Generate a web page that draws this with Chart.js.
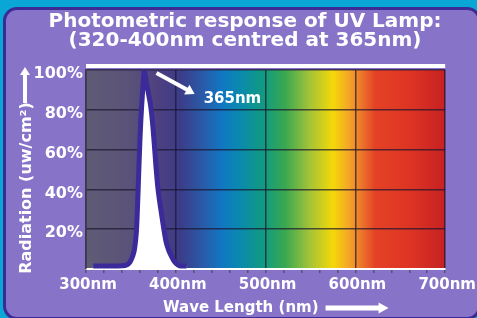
<!DOCTYPE html>
<html>
<head>
<meta charset="utf-8">
<script src="https://cdn.jsdelivr.net/npm/chart.js@4.4.1/dist/chart.umd.min.js"></script>
<style>
  html, body { margin: 0; padding: 0; width: 477px; height: 318px; overflow: hidden; background: #0aa6d6; }
  .panel { position: absolute; left: 3px; top: 7px; width: 478px; height: 313px; box-sizing: border-box;
           border: 3px solid #3a2c94; border-radius: 14px; background: #8773c8; }
  #wrap { position: absolute; left: 0; top: 0; width: 477px; height: 318px; }
</style>
</head>
<body>
<div class="panel"></div>
<div id="wrap"><canvas id="chart" width="477" height="318"></canvas></div>
<script>
// lamp output (nm, % of peak)
const wavelengths = [308, 330, 340, 345, 349, 352, 354, 356, 357, 358, 359, 360, 361, 362, 363, 364, 365,
                     366, 368, 370, 372, 374, 376, 378, 380, 382, 384, 386, 389, 392, 395, 398, 402, 406, 412];
const radiation   = [1.5, 1.5, 1.6, 2, 3.5, 6.5, 10, 18, 27, 39, 52, 64, 74, 82, 89, 95, 100,
                     97, 92, 87, 82, 74, 63, 51, 41, 34, 28, 22, 14, 9.5, 6.5, 4, 2.2, 1.5, 1.5];

const xRange = [300, 700];
const xLabelled = [300, 400, 500, 600, 700];
const yTicks = [20, 40, 60, 80, 100];

const titleLines = ['Photometric response of UV Lamp:', '(320-400nm centred at 365nm)'];
const xTitle = 'Wave Length (nm)';
const yTitle = 'Radiation (uw/cm\u00b2)';
const peakLabel = '365nm';
const peakArrow = [[378.5, 98.5], [421, 88]]; // in nm / %
const peakText = [431, 85.5];

// visible spectrum behind the plot
const spectrum = [
  [300, '#5f5b75'], [350, '#5a5279'], [380, '#4e4080'], [405, '#3b3c88'],
  [430, '#2a5aa8'], [452, '#1078c2'], [472, '#0a8aae'], [500, '#129c7c'],
  [522, '#3aa850'], [548, '#a0c23a'], [575, '#f4d808'], [592, '#f4a826'],
  [607, '#ec762a'], [622, '#e44226'], [660, '#de3424'], [700, '#c62222']
];

const FONT = '"DejaVu Sans", Verdana, sans-serif';

function arrow(ctx, x1, y1, x2, y2, shaft, headW, headL) {
  const ang = Math.atan2(y2 - y1, x2 - x1);
  const len = Math.hypot(x2 - x1, y2 - y1);
  ctx.save();
  ctx.translate(x1, y1);
  ctx.rotate(ang);
  ctx.fillRect(0, -shaft / 2, len - headL + 1, shaft);
  ctx.beginPath();
  ctx.moveTo(len, 0);
  ctx.lineTo(len - headL, -headW / 2);
  ctx.lineTo(len - headL, headW / 2);
  ctx.closePath();
  ctx.fill();
  ctx.restore();
}

const decor = {
  id: 'decor',
  beforeDraw(chart) {
    const {ctx, chartArea: a, scales: {x}} = chart;
    const g = ctx.createLinearGradient(a.left, 0, a.right, 0);
    spectrum.forEach(([nm, c]) => g.addColorStop((x.getPixelForValue(nm) - a.left) / (a.right - a.left), c));
    ctx.save();
    ctx.fillStyle = g;
    ctx.fillRect(a.left, a.top, a.right - a.left, a.bottom - a.top);
    ctx.fillStyle = '#fff';
    ctx.fillRect(a.left, a.top - 6, a.right - a.left, 4);
    ctx.restore();
  },
  afterDraw(chart) {
    const {ctx, scales: {x, y}} = chart;
    ctx.save();
    ctx.fillStyle = '#fff';
    ctx.font = 'bold 15px ' + FONT;
    ctx.textBaseline = 'middle';

    // x title + arrow
    ctx.textAlign = 'left';
    ctx.fillText(xTitle, 163, 308);
    const w = ctx.measureText(xTitle).width;
    arrow(ctx, 163 + w + 7, 308, 163 + w + 70, 308, 5, 11, 10);

    // annotation
    arrow(ctx, x.getPixelForValue(peakArrow[0][0]), y.getPixelForValue(peakArrow[0][1]),
               x.getPixelForValue(peakArrow[1][0]), y.getPixelForValue(peakArrow[1][1]), 4, 11, 9);
    ctx.fillText(peakLabel, x.getPixelForValue(peakText[0]), y.getPixelForValue(peakText[1]));

    // y title + arrow
    arrow(ctx, 25, 103, 25, 67, 4, 10, 8);
    ctx.font = 'bold 16px ' + FONT;
    ctx.translate(27, 188);
    ctx.rotate(-Math.PI / 2);
    ctx.textAlign = 'center';
    ctx.fillText(yTitle, 0, 0);
    ctx.restore();
  }
};

new Chart(document.getElementById('chart'), {
  type: 'line',
  data: {
    datasets: [{
      data: wavelengths.map((nm, i) => ({x: nm, y: radiation[i]})),
      borderColor: '#3a2a9a',
      borderWidth: 5,
      backgroundColor: '#ffffff',
      fill: 'origin',
      pointRadius: 0,
      cubicInterpolationMode: 'monotone'
    }]
  },
  options: {
    responsive: false,
    devicePixelRatio: 1,
    animation: false,
    layout: {padding: {left: 30, right: 17, top: 0, bottom: 0}},
    plugins: {
      legend: {display: false},
      tooltip: {enabled: false},
      title: {
        display: true,
        text: titleLines,
        color: '#fff',
        font: {family: FONT, weight: 'bold', size: 20, lineHeight: 0.95},
        padding: {top: 12, bottom: 20}
      }
    },
    scales: {
      x: {
        type: 'linear',
        min: xRange[0],
        max: xRange[1],
        afterFit: s => { s.height = 49; },
        border: {color: '#ffffff', width: 2},
        grid: {
          color: c => (c.tick && xLabelled.includes(c.tick.value)) ? 'rgba(25,20,45,0.7)' : 'rgba(0,0,0,0)',
          lineWidth: 1.5,
          tickColor: '#55556a',
          tickLength: 4,
          drawTicks: true
        },
        ticks: {
          stepSize: 20,
          autoSkip: false,
          maxRotation: 0,
          labelOffset: 2,
          padding: 3,
          color: '#fff',
          font: {family: FONT, weight: 'bold', size: 15},
          callback: v => xLabelled.includes(v) ? v + 'nm' : ''
        }
      },
      y: {
        min: 0,
        max: 100,
        afterFit: s => { s.width = 56; },
        border: {color: '#3a3a4a', width: 1.5},
        grid: {color: 'rgba(25,20,45,0.7)', lineWidth: 1.5, drawTicks: false},
        ticks: {
          stepSize: 20,
          padding: 3,
          labelOffset: 4,
          color: '#fff',
          font: {family: FONT, weight: 'bold', size: 16},
          callback: v => yTicks.includes(v) ? v + '%' : ''
        }
      },
      // empty strip on the right so the title centres like the original
      yRight: {
        position: 'right',
        min: 0,
        max: 100,
        afterFit: s => { s.width = 13; },
        border: {display: false},
        grid: {display: false},
        ticks: {display: false}
      }
    }
  },
  plugins: [decor]
});
</script>
</body>
</html>
